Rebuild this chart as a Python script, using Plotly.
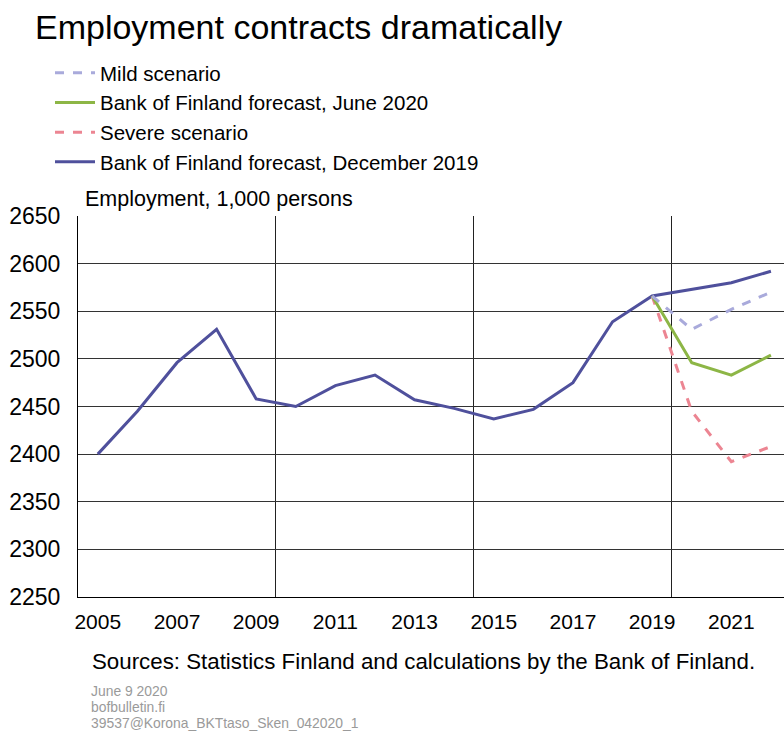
import plotly.graph_objects as go

years = list(range(2005, 2023))
dec2019 = [2400, 2445, 2496, 2531, 2458, 2450, 2472, 2483, 2457, 2448, 2437, 2447, 2475, 2539, 2566, 2573, 2580, 2592]
fc_years = [2019, 2020, 2021, 2022]
mild = [2566, 2531, 2552, 2570]
june2020 = [2566, 2496, 2483, 2504]
severe = [2566, 2445, 2392, 2408]

x_ticks = list(range(2005, 2022, 2))
y_ticks = list(range(2250, 2651, 50))

FONT = "Liberation Sans"
BLUE = "#4f509c"
GREEN = "#8db646"
MILD = "#a9aadb"
SEVERE = "#ec8592"

PLOT_TOP, PLOT_BOT, PLOT_L = 216, 597, 78
W, H = 784, 734
def py(p):
    return (PLOT_BOT - p) / (PLOT_BOT - PLOT_TOP)
def px(p):
    return (p - PLOT_L) / (W - PLOT_L)

fig = go.Figure()
fig.add_trace(go.Scatter(x=years, y=dec2019, mode="lines", name="Bank of Finland forecast, December 2019",
                         line=dict(color=BLUE, width=3)))
fig.add_trace(go.Scatter(x=fc_years, y=severe, mode="lines", name="Severe scenario",
                         line=dict(color=SEVERE, width=3, dash="dash")))
fig.add_trace(go.Scatter(x=fc_years, y=june2020, mode="lines", name="Bank of Finland forecast, June 2020",
                         line=dict(color=GREEN, width=3)))
fig.add_trace(go.Scatter(x=fc_years, y=mild, mode="lines", name="Mild scenario",
                         line=dict(color=MILD, width=3, dash="dash")))

fig.update_layout(
    width=W, height=H,
    margin=dict(l=PLOT_L, r=0, t=PLOT_TOP, b=H - PLOT_BOT),
    paper_bgcolor="white", plot_bgcolor="white",
    font=dict(family=FONT, color="black", size=21),
    showlegend=True,
    legend=dict(traceorder="reversed", x=px(50), y=1.0 - 53 / H, xref="paper", yref="container",
                xanchor="left", yanchor="top", font=dict(size=20.5),
                bgcolor="rgba(0,0,0,0)", itemwidth=40, tracegroupgap=0),
    title=dict(text="Employment contracts dramatically", x=35 / W, xanchor="left",
               y=1 - 27 / H, yanchor="middle", font=dict(size=34, family=FONT)),
    xaxis=dict(range=[2004.5, 2022.33], tickvals=x_ticks, showgrid=False,
               showline=True, linecolor="black", linewidth=1, ticks="", ticklabelstandoff=6,
               tickfont=dict(size=21), zeroline=False,
               minor=dict(tickvals=[2009.5, 2014.5, 2019.5], showgrid=True,
                          gridcolor="#222", gridwidth=1, ticks="")),
    yaxis=dict(range=[2250, 2650], tickvals=y_ticks, showgrid=True, gridcolor="#333", gridwidth=1,
               showline=True, linecolor="black", linewidth=1, ticks="", ticklabelstandoff=12,
               tickfont=dict(size=23), zeroline=False),
)

fig.add_annotation(text="Employment, 1,000 persons", xref="paper", yref="paper", x=px(83), y=py(199),
                   xanchor="left", yanchor="middle", showarrow=False, font=dict(size=21.5))
fig.add_annotation(text="Sources: Statistics Finland and calculations by the Bank of Finland.",
                   xref="paper", yref="paper", x=px(90), y=py(661), xanchor="left", yanchor="middle",
                   showarrow=False, font=dict(size=22.3))
for i, t in enumerate(["June 9 2020", "bofbulletin.fi", "39537@Korona_BKTtaso_Sken_042020_1"]):
    fig.add_annotation(text=t, xref="paper", yref="paper", x=px(89), y=py(691 + 16 * i),
                       xanchor="left", yanchor="middle", showarrow=False,
                       font=dict(size=13.9, color="#9a9a9a", family=FONT))

fig.write_html("out.html", config={"displayModeBar": False},
               post_script="document.body.style.margin='0';document.body.style.overflow='hidden';")
